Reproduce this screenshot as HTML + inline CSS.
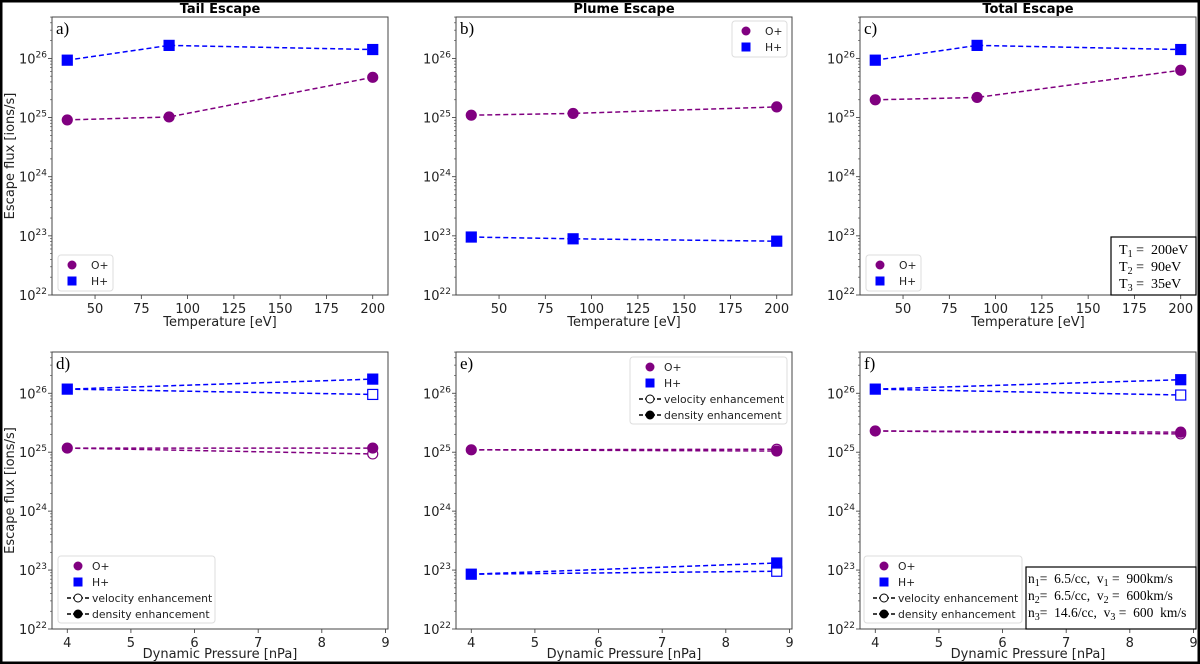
<!DOCTYPE html>
<html><head><meta charset="utf-8"><style>
html,body{margin:0;padding:0;background:#fff;}
svg{display:block;font-family:"DejaVu Sans","Liberation Sans",sans-serif;}
text{white-space:pre;}
</style></head><body>
<svg id="fig" width="1200" height="664" viewBox="0 0 1200 664" xmlns="http://www.w3.org/2000/svg">
<rect x="1" y="1" width="1198" height="662" fill="#fff" stroke="#000" stroke-width="3"/>
</svg>
<script>
// Temperatures [eV] (top row x)
const tempX = [35, 90, 200];
// log10 escape flux, top row
const tailO = [24.96, 25.01, 25.68];
const tailH = [25.97, 26.22, 26.15];
const plumeO = [25.04, 25.07, 25.18];
const plumeH = [22.98, 22.95, 22.91];
const totalO = [25.30, 25.34, 25.80];
const totalH = [25.97, 26.22, 26.15];
// Dynamic pressure [nPa] (bottom row x)
const pressX = [4, 8.8];
// bottom row: [value at 4, density-enhanced at 8.8, velocity-enhanced at 8.8]
const tailPO = [25.07, 25.07, 24.97];
const tailPH = [26.07, 26.24, 25.98];
const plumePO = [25.04, 25.02, 25.05];
const plumePH = [22.93, 23.12, 22.98];
const totalPO = [25.36, 25.34, 25.31];
const totalPH = [26.07, 26.23, 25.97];
const tempTicks = [50, 75, 100, 125, 150, 175, 200];
const pressTicks = [4, 5, 6, 7, 8, 9];
const yTicks = [22, 23, 24, 25, 26];

const NS = "http://www.w3.org/2000/svg";
const svg = document.getElementById('fig');
function mk(tag, attrs, parent, text) {
  const e = document.createElementNS(NS, tag);
  for (const k in attrs) e.setAttribute(k, attrs[k]);
  if (text !== undefined) e.textContent = text;
  (parent || svg).appendChild(e);
  return e;
}
const PURPLE = '#800080', BLUE = '#0000ff';
const W = 336;

function panel(opt) {
  const g = mk('g', {});
  
  
  const L = opt.left, T = opt.top, B = opt.bottom;
  const yMin = 22, yMax = 26.7;
  const sx = v => L + (v - opt.xmin) / (opt.xmax - opt.xmin) * W;
  const sy = v => B - (v - yMin) / (yMax - yMin) * (B - T);
  for (let d = 22; d < 27; d++) for (let m = 2; m <= 9; m++) {
    const v = d + Math.log10(m);
    if (v > yMax) continue;
    const t = mk('line', {x1: L - 2, x2: L, y1: sy(v), y2: sy(v), stroke: '#555', 'stroke-width': 0.7}, g);
    
    
  }
  yTicks.forEach(v => {
    const t = mk('line', {x1: L - 4, x2: L, y1: sy(v), y2: sy(v), stroke: '#333', 'stroke-width': 0.8}, g);
    
    
    const tx = mk('text', {x: L - 5, y: sy(v) + 5, 'text-anchor': 'end', 'font-size': 13, fill: '#222'}, g);
    
    
    mk('tspan', {}, tx, '10');
    mk('tspan', {dy: -6, 'font-size': 9}, tx, String(v));
  });
  opt.xticks.forEach(v => {
    const t = mk('line', {x1: sx(v), x2: sx(v), y1: B, y2: B + 4, stroke: '#333', 'stroke-width': 0.8}, g);
    
    
    const tx = mk('text', {x: sx(v), y: B + 18, 'text-anchor': 'middle', 'font-size': 13, fill: '#222'}, g, String(v));
    
    
  });
  const xl = mk('text', {x: L + W / 2, y: B + opt.xlabOff, 'text-anchor': 'middle', 'font-size': 13, fill: '#222'}, g, opt.xlabel);
  
  
  if (opt.ylabel) {
    const yl = mk('text', {x: 0, y: 0, 'text-anchor': 'middle', 'font-size': 13, fill: '#222', transform: `translate(14,${(T + B) / 2}) rotate(-90)`}, g, 'Escape flux [ions/s]');
    
    
  }
  if (opt.title) {
    const ti = mk('text', {x: L + W / 2, y: 13, 'text-anchor': 'middle', 'font-size': 13, 'font-weight': 'bold', fill: '#000'}, g, opt.title);
    
    
  }
  const lab = mk('text', {x: L + 4, y: T + 17, 'font-size': 17, 'font-family': '"Liberation Serif",serif', fill: '#000'}, g, opt.letter);
  
  

  function line(xs, ys, color) {
    const p = mk('polyline', {points: xs.map((x, i) => sx(x) + ',' + sy(ys[i])).join(' '), fill: 'none', stroke: color, 'stroke-width': 1.5, 'stroke-dasharray': '5,3'}, g);
    
    
  }
  function marker(x, y, color, shape, filled) {
    let m;
    if (shape === 'o') m = mk('circle', {cx: sx(x), cy: sy(y), r: 5, fill: filled ? color : '#fff', stroke: color, 'stroke-width': 1.2}, g);
    else m = mk('rect', {x: sx(x) - 5, y: sy(y) - 5, width: 10, height: 10, fill: filled ? color : '#fff', stroke: color, 'stroke-width': 1.2}, g);
    
    
  }
  if (opt.O) {
    line(tempX, opt.O, PURPLE); line(tempX, opt.H, BLUE);
    tempX.forEach((x, i) => { marker(x, opt.O[i], PURPLE, 'o', true); marker(x, opt.H[i], BLUE, 's', true); });
  } else {
    [[opt.PO, PURPLE, 'o'], [opt.PH, BLUE, 's']].forEach(([arr, c, s]) => {
      line(pressX, [arr[0], arr[2]], c);
      line(pressX, [arr[0], arr[1]], c);
      marker(pressX[0], arr[0], c, s, true);
      marker(pressX[1], arr[2], c, s, false);
      marker(pressX[1], arr[1], c, s, true);
    });
  }
  const frame = mk('rect', {x: L, y: T, width: W, height: B - T, fill: 'none', stroke: '#444', 'stroke-width': 1}, g);
  
  

  const lg = opt.legend;
  const lgG = mk('g', {}, g);
  
  
  mk('rect', {x: lg.x, y: lg.y, width: lg.w, height: lg.h, rx: 3, fill: '#fff', stroke: '#ddd'}, lgG);
  const rows = opt.O ? 2 : 4;
  for (let i = 0; i < rows; i++) {
    const cy = lg.y + 10 + i * 16;
    const ent = mk('g', {}, lgG);
    
    
    const mx = lg.x + 14;
    const off = rows === 4 ? 6 : 0;
    if (i === 0) mk('circle', {cx: mx + off, cy, r: 4.5, fill: PURPLE}, ent);
    if (i === 1) mk('rect', {x: mx + off - 4.5, y: cy - 4.5, width: 9, height: 9, fill: BLUE}, ent);
    if (i >= 2) {
      mk('line', {x1: mx - 5, x2: mx + 17, y1: cy, y2: cy, stroke: '#000', 'stroke-width': 1.5, 'stroke-dasharray': '4,2'}, ent);
      mk('circle', {cx: mx + 6, cy, r: 4, fill: i === 2 ? '#fff' : '#000', stroke: '#000', 'stroke-width': 1}, ent);
    }
    const labels = ['O+', 'H+', 'velocity enhancement', 'density enhancement'];
    mk('text', {x: lg.x + (rows === 4 ? 34 : 33), y: cy + 4, 'font-size': 10.8, fill: '#222'}, ent, labels[i]);
  }
  return {g};
}

const topT = 17, topB = 295, botT = 352, botB = 629;
const lefts = [52, 456, 860];
const tx0 = 26.75, tx1 = 208.25, px0 = 3.76, px1 = 9.04;
panel({name: 'panel-a-tail-escape', left: lefts[0], top: topT, bottom: topB, xmin: tx0, xmax: tx1, xticks: tempTicks, xlabel: 'Temperature [eV]', xlabOff: 31, ylabel: true, title: 'Tail Escape', letter: 'a)', O: tailO, H: tailH, legend: {x: 58, y: 255, w: 55, h: 36}});
panel({name: 'panel-b-plume-escape', left: lefts[1], top: topT, bottom: topB, xmin: tx0, xmax: tx1, xticks: tempTicks, xlabel: 'Temperature [eV]', xlabOff: 31, title: 'Plume Escape', letter: 'b)', O: plumeO, H: plumeH, legend: {x: 732, y: 21, w: 55, h: 36}});
panel({name: 'panel-c-total-escape', left: lefts[2], top: topT, bottom: topB, xmin: tx0, xmax: tx1, xticks: tempTicks, xlabel: 'Temperature [eV]', xlabOff: 31, title: 'Total Escape', letter: 'c)', O: totalO, H: totalH, legend: {x: 866, y: 255, w: 55, h: 36}});
panel({name: 'panel-d-tail-pressure', left: lefts[0], top: botT, bottom: botB, xmin: px0, xmax: px1, xticks: pressTicks, xlabel: 'Dynamic Pressure [nPa]', xlabOff: 29, ylabel: true, letter: 'd)', PO: tailPO, PH: tailPH, legend: {x: 58, y: 556, w: 157, h: 67}});
panel({name: 'panel-e-plume-pressure', left: lefts[1], top: botT, bottom: botB, xmin: px0, xmax: px1, xticks: pressTicks, xlabel: 'Dynamic Pressure [nPa]', xlabOff: 29, letter: 'e)', PO: plumePO, PH: plumePH, legend: {x: 630, y: 357, w: 157, h: 67}});
panel({name: 'panel-f-total-pressure', left: lefts[2], top: botT, bottom: botB, xmin: px0, xmax: px1, xticks: pressTicks, xlabel: 'Dynamic Pressure [nPa]', xlabOff: 29, letter: 'f)', PO: totalPO, PH: totalPH, legend: {x: 864, y: 556, w: 158, h: 67}});

const ac = mk('g', {});


mk('rect', {x: 1111, y: 237, width: 85, height: 58, fill: '#fff', stroke: '#000', 'stroke-width': 1.2}, ac);
[['1', '200eV'], ['2', '90eV'], ['3', '35eV']].forEach((r, i) => {
  const t = mk('text', {x: 1119, y: 254 + i * 17, 'font-size': 14, 'font-family': '"Liberation Serif",serif', fill: '#000'}, ac);
  mk('tspan', {}, t, 'T');
  mk('tspan', {dy: 3, 'font-size': 10}, t, r[0]);
  mk('tspan', {dy: -3}, t, ' =  ' + r[1]);
});
const af = mk('g', {});


mk('rect', {x: 1026, y: 567, width: 170, height: 62, fill: '#fff', stroke: '#000', 'stroke-width': 1.2}, af);
[['1', '6.5/cc', '900km/s'], ['2', '6.5/cc', '600km/s'], ['3', '14.6/cc', '600  km/s']].forEach((r, i) => {
  const t = mk('text', {x: 1028, y: 583 + i * 17, 'font-size': 13.5, 'font-family': '"Liberation Serif",serif', fill: '#000'}, af);
  mk('tspan', {}, t, 'n');
  mk('tspan', {dy: 3, 'font-size': 10}, t, r[0]);
  mk('tspan', {dy: -3}, t, '=  ' + r[1] + ',  v');
  mk('tspan', {dy: 3, 'font-size': 10}, t, r[0]);
  mk('tspan', {dy: -3}, t, ' =  ' + r[2]);
});
</script>
</body></html>
